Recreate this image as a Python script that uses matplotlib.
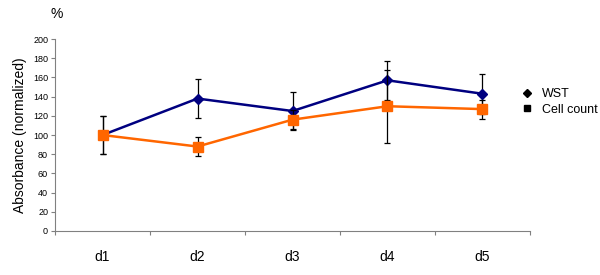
import matplotlib
matplotlib.use('Agg')
import matplotlib.pyplot as plt
from matplotlib.lines import Line2D

# Data
days = ['d1', 'd2', 'd3', 'd4', 'd5']
wst = [100, 138, 125, 157, 143]
wst_err = [20, 20, 20, 20, 21]
cell = [100, 88, 116, 130, 127]
cell_err = [20, 10, 10, 38, 10]

plt.rcParams['font.family'] = ['Liberation Sans', 'DejaVu Sans']

fig = plt.figure(figsize=(6, 2.75), dpi=100)
ax = fig.add_axes([0.0917, 0.16, 0.7916, 0.698])

x = [i + 0.5 for i in range(len(days))]

ax.errorbar(x, wst, yerr=wst_err, color='#000080', marker='D', markersize=5,
            linewidth=1.8, ecolor='black', elinewidth=0.9, capsize=2.5, capthick=0.9, zorder=2)
ax.errorbar(x, cell, yerr=cell_err, color='#FF6600', marker='s', markersize=7,
            linewidth=1.8, ecolor='black', elinewidth=0.9, capsize=2.5, capthick=0.9, zorder=3)

ax.set_xlim(0, 5)
ax.set_ylim(0, 200)
ax.set_yticks(range(0, 201, 20))
ax.tick_params(axis='y', labelsize=6.5, length=3, color='#808080', pad=2)

# category labels centred, ticks at boundaries
ax.set_xticks(range(0, 6))
ax.set_xticklabels([])
ax.set_xticks(x, minor=True)
ax.set_xticklabels(days, minor=True, fontsize=10)
ax.tick_params(axis='x', which='major', length=3, color='#808080')
ax.tick_params(axis='x', which='minor', length=0, pad=14)

for s in ['top', 'right']:
    ax.spines[s].set_visible(False)
for s in ['left', 'bottom']:
    ax.spines[s].set_color('#808080')

ax.set_ylabel('Absorbance (normalized)', fontsize=10, labelpad=4)
fig.text(0.095, 0.95, '%', fontsize=10, ha='center', va='center')

handles = [Line2D([], [], color='black', marker='D', markersize=4, linestyle='None'),
           Line2D([], [], color='black', marker='s', markersize=5, linestyle='None')]
fig.legend(handles, ['WST', 'Cell count'], loc='center left', bbox_to_anchor=(0.868, 0.63),
           frameon=False, fontsize=9, handletextpad=0.7, labelspacing=0.3, handlelength=1,
           borderpad=0, borderaxespad=0)

fig.savefig('out.png', dpi=100)
